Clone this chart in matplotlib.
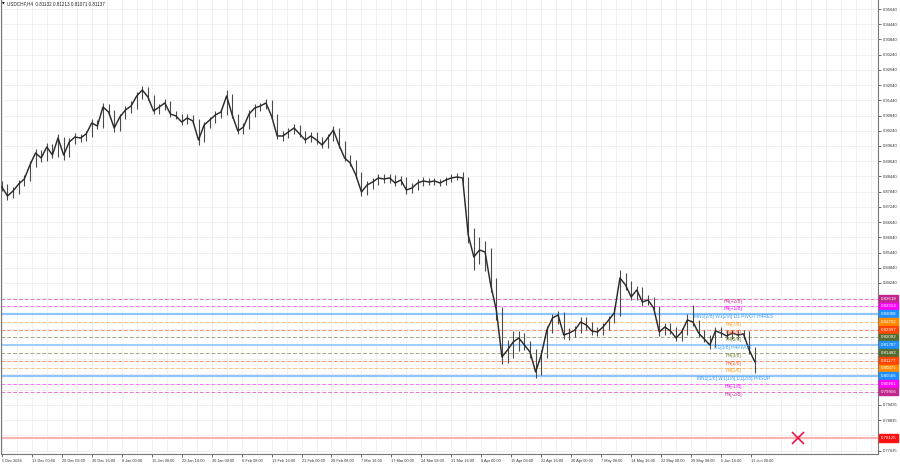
import matplotlib
matplotlib.use("Agg")
import matplotlib.pyplot as plt

# USDCHF H4 (one sample per trading day)
closes = [0.88023, 0.87669, 0.87866, 0.88142, 0.88339, 0.88891, 0.89364, 0.89167, 0.89600, 0.89285,
          0.89955, 0.89285, 0.89797, 0.89994, 0.89955, 0.90113, 0.90546, 0.90428, 0.91177, 0.90980,
          0.90349, 0.90783, 0.91059, 0.91216, 0.91611, 0.91847, 0.91571, 0.91019, 0.91177, 0.91335,
          0.90901, 0.90822, 0.90586, 0.90743, 0.90625, 0.89876, 0.90468, 0.90665, 0.90862, 0.90980,
          0.91611, 0.90862, 0.90231, 0.90389, 0.90901, 0.91138, 0.91216, 0.91335, 0.90822, 0.90034,
          0.90034, 0.90192, 0.90349, 0.90113, 0.89876, 0.90034, 0.89876, 0.89679, 0.89955, 0.90270,
          0.89679, 0.89167, 0.88970, 0.88497, 0.87826, 0.88102, 0.88221, 0.88378, 0.88339, 0.88378,
          0.88181, 0.88299, 0.87905, 0.87984, 0.88181, 0.88260, 0.88221, 0.88260, 0.88181, 0.88299,
          0.88378, 0.88418, 0.88378, 0.86131, 0.85264, 0.85540, 0.85461, 0.84160, 0.83175, 0.81322,
          0.81598, 0.81913, 0.82071, 0.81795, 0.81519, 0.80731, 0.81401, 0.82386, 0.82859, 0.82978,
          0.82189, 0.82268, 0.82386, 0.82702, 0.82584, 0.82347, 0.82308, 0.82505, 0.82781, 0.83057,
          0.84436, 0.84160, 0.83687, 0.83963, 0.83490, 0.83569, 0.83254, 0.82308, 0.82505, 0.82347,
          0.82071, 0.82308, 0.82781, 0.82702, 0.82268, 0.82032, 0.81795, 0.82347, 0.82268, 0.82150,
          0.82268, 0.82189, 0.82229, 0.81598, 0.81137]
highs = [0.8825, 0.8815, 0.8802, 0.8830, 0.8850, 0.8905, 0.8952, 0.8950, 0.8975, 0.8970,
         0.9010, 0.8998, 0.8995, 0.9015, 0.9012, 0.9025, 0.9070, 0.9068, 0.9135, 0.9130,
         0.9105, 0.9092, 0.9120, 0.9140, 0.9178, 0.9200, 0.9195, 0.9165, 0.9130, 0.9150,
         0.9140, 0.9100, 0.9090, 0.9090, 0.9085, 0.9070, 0.9060, 0.9080, 0.9100, 0.9110,
         0.9185, 0.9170, 0.9090, 0.9055, 0.9105, 0.9128, 0.9135, 0.9150, 0.9145, 0.9090,
         0.9025, 0.9035, 0.9050, 0.9048, 0.9022, 0.9020, 0.9018, 0.8998, 0.9010, 0.9042,
         0.9035, 0.8985, 0.8930, 0.8910, 0.8860, 0.8825, 0.8838, 0.8852, 0.8855, 0.8852,
         0.8848, 0.8845, 0.8840, 0.8818, 0.8832, 0.8840, 0.8838, 0.8838, 0.8835, 0.8842,
         0.8852, 0.8858, 0.8860, 0.8840, 0.8640, 0.8605, 0.8590, 0.8560, 0.8445, 0.8330,
         0.8200, 0.8235, 0.8235, 0.8225, 0.8195, 0.8165, 0.8160, 0.8255, 0.8300, 0.8315,
         0.8310, 0.8245, 0.8255, 0.8290, 0.8288, 0.8272, 0.8250, 0.8268, 0.8295, 0.8325,
         0.8475, 0.8462, 0.8430, 0.8412, 0.8410, 0.8375, 0.8370, 0.8335, 0.8268, 0.8265,
         0.8250, 0.8245, 0.8300, 0.8338, 0.8280, 0.8240, 0.8218, 0.8250, 0.8250, 0.8240,
         0.8240, 0.8240, 0.8238, 0.8235, 0.8170]
lows = [0.8785, 0.8751, 0.8760, 0.8775, 0.8805, 0.8825, 0.8880, 0.8900, 0.8905, 0.8915,
        0.8920, 0.8910, 0.8920, 0.8970, 0.8980, 0.8985, 0.9000, 0.9030, 0.9035, 0.9085,
        0.9020, 0.9025, 0.9070, 0.9095, 0.9110, 0.9150, 0.9145, 0.9090, 0.9090, 0.9105,
        0.9080, 0.9070, 0.9045, 0.9050, 0.9050, 0.8968, 0.8980, 0.9035, 0.9055, 0.9075,
        0.9085, 0.9075, 0.9010, 0.9012, 0.9030, 0.9078, 0.9100, 0.9108, 0.9070, 0.8990,
        0.8985, 0.8995, 0.9010, 0.8998, 0.8975, 0.8978, 0.8972, 0.8955, 0.8955, 0.8985,
        0.8955, 0.8905, 0.8885, 0.8838, 0.8768, 0.8770, 0.8795, 0.8810, 0.8818, 0.8820,
        0.8805, 0.8810, 0.8775, 0.8780, 0.8790, 0.8808, 0.8810, 0.8810, 0.8808, 0.8812,
        0.8822, 0.8828, 0.8820, 0.8580, 0.8475, 0.8500, 0.8470, 0.8390, 0.8280, 0.8105,
        0.8110, 0.8130, 0.8155, 0.8160, 0.8130, 0.8050, 0.8060, 0.8130, 0.8225, 0.8262,
        0.8205, 0.8200, 0.8210, 0.8225, 0.8240, 0.8220, 0.8215, 0.8220, 0.8240, 0.8265,
        0.8295, 0.8395, 0.8355, 0.8355, 0.8335, 0.8338, 0.8310, 0.8215, 0.8218, 0.8222,
        0.8195, 0.8195, 0.8220, 0.8255, 0.8210, 0.8190, 0.8165, 0.8172, 0.8210, 0.8202,
        0.8205, 0.8205, 0.8205, 0.8145, 0.8068]
bars_per_sample = 6

time_labels = ["5 Dec 2024", "13 Dec 00:00", "20 Dec 08:00", "30 Dec 16:00", "8 Jan 00:00",
               "15 Jan 08:00", "22 Jan 16:00", "30 Jan 00:00", "6 Feb 08:00", "13 Feb 16:00",
               "21 Feb 00:00", "28 Feb 08:00", "7 Mar 16:00", "17 Mar 00:00", "24 Mar 08:00",
               "31 Mar 16:00", "8 Apr 00:00", "15 Apr 08:00", "22 Apr 16:00", "30 Apr 00:00",
               "7 May 08:00", "14 May 16:00", "22 May 00:00", "29 May 08:00", "5 Jun 16:00",
               "13 Jun 00:00"]
bars_per_label = 32

price_ticks = [0.95040, 0.94440, 0.93840, 0.93240, 0.92640, 0.92040, 0.91440, 0.90840, 0.90240,
               0.89640, 0.89040, 0.88440, 0.87840, 0.87240, 0.86640, 0.86040, 0.85440, 0.84840,
               0.84240, 0.83640, 0.83040, 0.82440, 0.81840, 0.81240, 0.80640, 0.80040,
               0.79435, 0.78835, 0.78235, 0.77635]
hidden_ticks = [0.83640, 0.83040, 0.82440, 0.81840, 0.81240, 0.80640, 0.80040]

# murrey levels
level_prices = [0.83618, 0.83313, 0.83008, 0.82702, 0.82397, 0.82092, 0.81787,
                0.81482, 0.81177, 0.80871, 0.80566, 0.80261, 0.79956]
level_names = ["H4[+2/8]", "H4[+1/8]", "MN1[2/8] W1[2/8] D1 PIVOT H4RES", "H4[7/8]", "H4[6/8]",
               "H4[5/8]", "D1[3/8] H4PIVOT", "H4[3/8]", "H4[2/8]", "H4[1/8]",
               "MN1[1/8] W1[1/8] D1[2/8] H4SUP", "H4[-1/8]", "H4[-2/8]"]

target_price = 0.78125
target_bar = 850

title = "USDCHF,H4  0.81132 0.81213 0.81071 0.81137"

# styles
box_colors = ["#c2278f", "#f0f", "#1e8fff", "#ff8c00", "#ff4500", "#556b2f", "#1e8fff",
              "#556b2f", "#ff4500", "#ff8c00", "#1e8fff", "#f0f", "#c2278f"]
line_colors = ["#e27bbf", "#ff70ff", "#8ec5ff", "#ffbe7a", "#ff9478", "#a4a884", "#8ec5ff",
               "#a4a884", "#ff9478", "#ffbe7a", "#8ec5ff", "#ff70ff", "#e27bbf"]
text_colors = ["#d02a9a", "#f0f", "#3d9cff", "#ff9a1f", "#ff5a2a", "#6f8a3a", "#3d9cff",
               "#6f8a3a", "#ff5a2a", "#ff9a1f", "#3d9cff", "#f0f", "#d02a9a"]
solid_levels = [2, 6, 10]

plt.rcParams["font.family"] = ["Liberation Sans", "DejaVu Sans"]

fig = plt.figure(figsize=(9, 4.67), dpi=100)
ax = fig.add_axes([0.001, 13 / 467, 877 / 900, 454 / 467])

xs = [i * bars_per_sample for i in range(len(closes))]
px_per_bar = 30 / 32
ax.set_xlim(-1, 877 / px_per_bar)
ax.set_ylim(0.77498, 0.95395)

# grid
for t in range(0, 940, bars_per_label // 2):
    ax.axvline(t, color="#efefef", lw=0.6, zorder=0)
for p in price_ticks:
    ax.axhline(p, color="#efefef", lw=0.6, zorder=0)

# levels
for i, p in enumerate(level_prices):
    if i in solid_levels:
        ax.axhline(p, color=line_colors[i], lw=1.6 if i != 6 else 1.2, zorder=1)
    else:
        ax.axhline(p, color=line_colors[i], lw=0.7, ls=(0, (4, 2)), zorder=1)
    ax.text(xs[-1] - 23, p, level_names[i], color=text_colors[i], fontsize=3.5,
            ha="center", va="top", zorder=4)
    ax.text(1.003, p, "%.5f" % p, transform=ax.get_yaxis_transform(), color="white",
            fontsize=3.2, ha="left", va="center", clip_on=False, zorder=5,
            bbox=dict(boxstyle="square,pad=0.4", fc=box_colors[i], ec=box_colors[i]))

ax.axhline(target_price, color="#ffb3b3", lw=1.5, zorder=1)
ax.plot([target_bar], [target_price], marker="x", ms=9, mew=1.2, color="#e8174a", zorder=5)
ax.text(1.003, target_price, "%.5f" % target_price, transform=ax.get_yaxis_transform(),
        color="white", fontsize=3.2, ha="left", va="center", clip_on=False, zorder=5,
        bbox=dict(boxstyle="square,pad=0.4", fc="#ff1010", ec="#ff1010"))

# price
ax.vlines(xs, lows, highs, color="#4a4a4a", lw=0.8, zorder=2)
ax.plot(xs, closes, color="#2a2a2a", lw=1.05, zorder=3)

# axes
ax.yaxis.tick_right()
ax.set_yticks(price_ticks)
ax.set_yticklabels(["" if p in hidden_ticks else "%.5f" % p for p in price_ticks])
ax.tick_params(axis="y", labelsize=3.0, length=2, width=0.5, pad=1.5, colors="#333333")
ax.set_xticks([i * bars_per_label for i in range(len(time_labels))])
ax.set_xticklabels(time_labels, ha="left")
ax.tick_params(axis="x", labelsize=2.8, length=2, width=0.5, pad=1.5, colors="#333333")
for s in ["left", "bottom", "right"]:
    ax.spines[s].set_color("#777777")
    ax.spines[s].set_linewidth(0.8)
ax.spines["top"].set_visible(False)

fig.text(2 / 900, 1 - 4 / 467, "\u25bc", fontsize=2.5, va="center", ha="left",
         family="DejaVu Sans")
fig.text(7 / 900, 1 - 4 / 467, title, fontsize=3.3, va="center", ha="left", color="#222222")

fig.savefig("out.png", dpi=100)
